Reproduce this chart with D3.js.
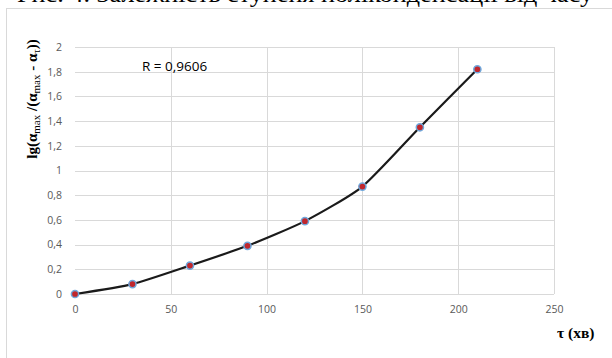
<!DOCTYPE html>
<html>
<head>
<meta charset="utf-8">
<script src="https://cdn.jsdelivr.net/npm/d3@7"></script>
<style>
  body { margin: 0; background: #fff; }
  svg { display: block; }
</style>
</head>
<body>
<svg id="chart"></svg>
<script>
// time, min
const times = [0, 30, 60, 90, 120, 150, 180, 210];
// lg(a_max / (a_max - a_t))
const lgValues = [0, 0.08, 0.23, 0.39, 0.59, 0.87, 1.35, 1.82];
const xTicks = [0, 50, 100, 150, 200, 250];
const yTicks = [0, 0.2, 0.4, 0.6, 0.8, 1, 1.2, 1.4, 1.6, 1.8, 2];
const caption = 'Рис. 4. Залежність ступеня поліконденсації від часу';
const rLabel = 'R = 0,9606';

const width = 612, height = 358;

let svg = d3.select('#chart')
        .attr('width', width)
        .attr('height', height);

// caption of the figure, cut at the top edge like in the scan
svg.append('text')
        .attr('x', 17)
        .attr('y', 2)
        .attr('font-family', 'Liberation Serif')
        .attr('font-size', 24)
        .attr('textLength', 576)
        .attr('lengthAdjust', 'spacingAndGlyphs')
        .text(caption);

// chart frame
svg.append('rect')
        .attr('x', 6.5)
        .attr('y', 8.5)
        .attr('width', 620)
        .attr('height', 360)
        .attr('fill', 'none')
        .attr('stroke', '#d9d9d9');

let x = d3.scaleLinear().domain([0, 250]).range([75, 554]);
let y = d3.scaleLinear().domain([0, 2]).range([294, 47]);

let fmt = d => d3.format('')(d).replace('.', ',');

// grid
svg.append('g')
        .selectAll('line')
        .data(yTicks)
        .join('line')
        .attr('x1', x(0))
        .attr('x2', x(250))
        .attr('y1', d => Math.round(y(d)) + 0.5)
        .attr('y2', d => Math.round(y(d)) + 0.5)
        .attr('stroke', '#d9d9d9');

svg.append('g')
        .selectAll('line')
        .data(xTicks.slice(1))
        .join('line')
        .attr('x1', d => Math.round(x(d)) + 0.5)
        .attr('x2', d => Math.round(x(d)) + 0.5)
        .attr('y1', y(0))
        .attr('y2', y(2))
        .attr('stroke', '#d9d9d9');

// axes labels via d3 axes, no lines
let xAxis = svg.append('g')
        .attr('transform', `translate(0,${y(0)})`)
        .call(d3.axisBottom(x).tickValues(xTicks).tickSize(0).tickPadding(12).tickFormat(fmt));
let yAxis = svg.append('g')
        .attr('transform', `translate(${x(0)},0)`)
        .call(d3.axisLeft(y).tickValues(yTicks).tickSize(0).tickPadding(13).tickFormat(fmt));

[xAxis, yAxis].forEach(function (ax) {
    ax.select('.domain').remove();
    ax.selectAll('text')
            .attr('fill', '#595959')
            .attr('font-family', 'Open Sans')
            .attr('font-size', 10.5);
});

// R label
svg.append('text')
        .attr('x', 142)
        .attr('y', 71)
        .attr('font-family', 'Open Sans')
        .attr('font-size', 13.5)
        .attr('fill', '#000')
        .text(rLabel);

// curve
let points = times.map((t, i) => [t, lgValues[i]]);
let line = d3.line()
        .x(d => x(d[0]))
        .y(d => y(d[1]))
        .curve(d3.curveCardinal.tension(0.4));

svg.append('path')
        .datum(points)
        .attr('d', line)
        .attr('fill', 'none')
        .attr('stroke', '#1a1a1a')
        .attr('stroke-width', 2.2);

svg.append('g')
        .selectAll('circle')
        .data(points)
        .join('circle')
        .attr('cx', d => x(d[0]))
        .attr('cy', d => y(d[1]))
        .attr('r', 3.6)
        .attr('fill', '#c0272d')
        .attr('stroke', '#6fa8dc')
        .attr('stroke-width', 1.5);

// y axis title
let yTitle = svg.append('text')
        .attr('transform', 'translate(37,99) rotate(-90)')
        .attr('text-anchor', 'middle')
        .attr('font-family', 'Liberation Serif')
        .attr('font-weight', 'bold')
        .attr('font-size', 15);
let parts = [
    ['lg(α', 0], ['max', 1], [' /(α', 0], ['max', 1], [' - α', 0], ['τ', 1], ['))', 0]
];
parts.forEach(function (p) {
    let ts = yTitle.append('tspan').text(p[0]);
    if (p[1]) {
        ts.attr('font-size', 11).attr('font-weight', 'normal').attr('baseline-shift', '-25%');
    }
});

// x axis title
svg.append('text')
        .attr('x', 557)
        .attr('y', 338)
        .attr('font-family', 'Liberation Serif')
        .attr('font-weight', 'bold')
        .attr('font-size', 15.5)
        .text('τ (хв)');
</script>
</body>
</html>
